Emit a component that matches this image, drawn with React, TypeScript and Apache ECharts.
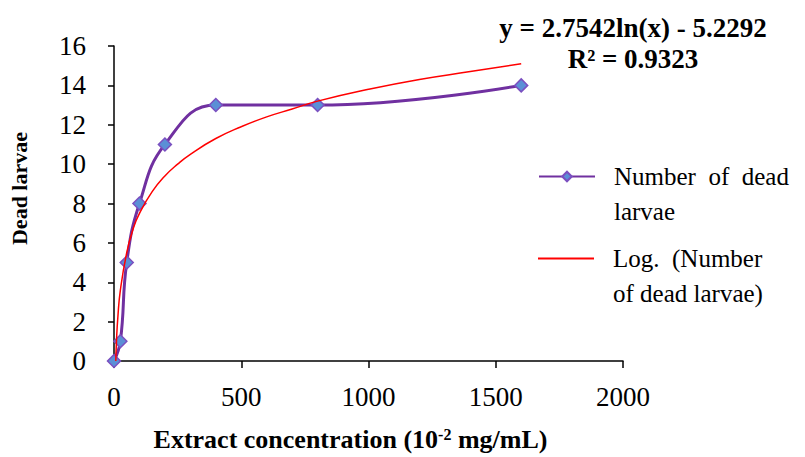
import React, { useEffect, useRef } from "react";
import * as echarts from "echarts";

const concentrations = [0, 25, 50, 100, 200, 400, 800, 1600];
const deadLarvae = [0, 1, 5, 8, 11, 13, 13, 14];
// logarithmic trend line
const trendX = [7, 10, 15, 25, 50, 75, 100, 150, 200, 250, 300, 400, 500, 600, 700, 800, 1000, 1200, 1400, 1600];
const trendY = [0, 1.1, 2.2, 3.6, 5.5, 6.7, 7.5, 8.6, 9.4, 10.0, 10.5, 11.3, 11.9, 12.4, 12.8, 13.2, 13.8, 14.3, 14.7, 15.1];
const xTicks = [0, 500, 1000, 1500, 2000];
const yTicks = [0, 2, 4, 6, 8, 10, 12, 14, 16];
const seriesName = "Number of dead larvae";
const trendName = "Log. (Number of dead larvae)";
const seriesLegendLines = ["Number  of  dead", "larvae"];
const trendLegendLines = ["Log.  (Number", "of dead larvae)"];
const equationText = "y = 2.7542ln(x) - 5.2292";
const r2Text = "R² = 0.9323";

const FONT = "Liberation Serif";

export default function App() {
  const ref = useRef<HTMLDivElement>(null);
  useEffect(() => {
    if (!ref.current) return;
    const chart = echarts.init(ref.current, null, { renderer: "svg" });
    const legendText = { fontFamily: FONT, fontSize: 25, color: "#000", lineHeight: 35, padding: [0, 0, 0, 14] };
    chart.setOption({
      animation: false,
      backgroundColor: "#ffffff",
      textStyle: { fontFamily: FONT },
      grid: { left: 106, right: 182, top: 46, bottom: 91, containLabel: false },
      xAxis: {
        type: "value",
        min: xTicks[0],
        max: xTicks[xTicks.length - 1],
        interval: 500,
        name: "Extract concentration (10{sup|-2} mg/mL)",
        nameLocation: "middle",
        nameGap: 65,
        nameTextStyle: {
          fontFamily: FONT,
          fontSize: 26,
          fontWeight: "bold",
          color: "#000",
          padding: [0, 36, 0, 0],
          rich: {
            sup: { fontFamily: FONT, fontSize: 16, fontWeight: "bold", color: "#000", verticalAlign: "top", padding: [0, 0, 10, 0] },
          },
        },
        axisLine: { lineStyle: { color: "#000", width: 1.5 } },
        axisTick: { show: true, length: 7, lineStyle: { color: "#000", width: 1.5 } },
        axisLabel: { fontFamily: FONT, fontSize: 27, color: "#000", margin: 22, formatter: (v: number) => String(v) },
        splitLine: { show: false },
      },
      yAxis: {
        type: "value",
        min: yTicks[0],
        max: yTicks[yTicks.length - 1],
        interval: 2,
        name: "Dead larvae",
        nameLocation: "middle",
        nameGap: 84,
        nameRotate: 90,
        nameTextStyle: { fontFamily: FONT, fontSize: 22, fontWeight: "bold", color: "#000", padding: [0, 0, 0, 30] },
        axisLine: { show: true, lineStyle: { color: "#000", width: 1.5 } },
        axisTick: { show: true, length: 6, lineStyle: { color: "#000", width: 1.5 } },
        axisLabel: { fontFamily: FONT, fontSize: 27, color: "#000", margin: 28, formatter: (v: number) => String(v) },
        splitLine: { show: false },
      },
      legend: [
        {
          orient: "vertical",
          left: 538,
          top: 124,
          padding: 0,
          itemWidth: 56,
          itemHeight: 12,
          textStyle: legendText,
          data: [{ name: seriesName }],
          formatter: () => "\n" + seriesLegendLines.join("\n"),
        },
        {
          orient: "vertical",
          left: 538,
          top: 206,
          padding: 0,
          itemWidth: 56,
          itemHeight: 12,
          textStyle: legendText,
          data: [{ name: trendName, icon: "path://M0,0 L56,0 L56,2 L0,2 Z" }],
          formatter: () => "\n" + trendLegendLines.join("\n"),
        },
      ],
      graphic: [
        {
          type: "text",
          x: 633,
          y: 12,
          style: {
            text: equationText + "\n" + r2Text,
            fontFamily: FONT,
            fontSize: 27,
            fontWeight: "bold",
            fill: "#000",
            align: "center",
            lineHeight: 31,
          },
        },
      ],
      series: [
        {
          name: seriesName,
          type: "line",
          data: concentrations.map((c, i) => [c, deadLarvae[i]]),
          smooth: 0.45,
          symbol: "diamond",
          symbolSize: 13,
          lineStyle: { color: "#7030A0", width: 3 },
          itemStyle: { color: "#5B8FD6", borderColor: "#7B4FC0", borderWidth: 1.5 },
          z: 3,
        },
        {
          name: trendName,
          type: "line",
          data: trendX.map((x, i) => [x, trendY[i]]),
          smooth: true,
          symbol: "none",
          lineStyle: { color: "#FF0000", width: 1.5 },
          itemStyle: { color: "#FF0000" },
          z: 4,
        },
      ],
    });
    return () => chart.dispose();
  }, []);
  return <div ref={ref} style={{ width: 805, height: 457, position: "absolute", left: 0, top: 0 }} />;
}
